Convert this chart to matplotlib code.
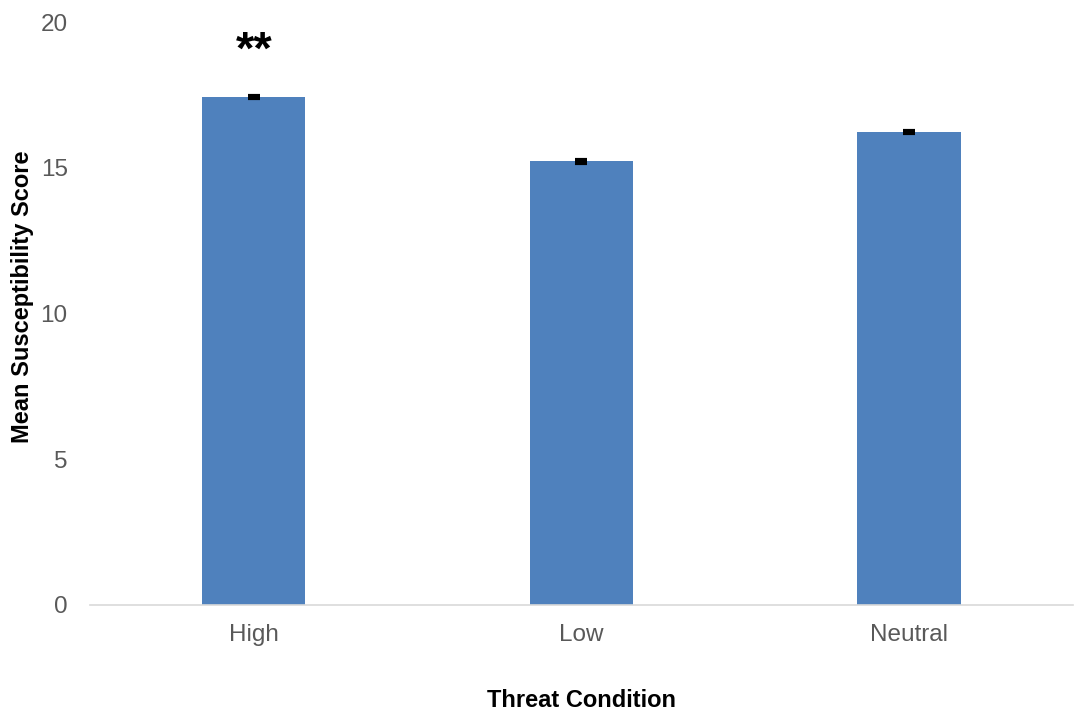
import matplotlib
matplotlib.use('Agg')
import matplotlib.pyplot as plt

# Data
conditions = ['High', 'Low', 'Neutral']
mean_scores = [17.43, 15.22, 16.22]
std_errors = [0.04, 0.04, 0.04]
significance = ['**', '', '']

plt.rcParams['font.family'] = ['Liberation Sans', 'DejaVu Sans']

fig = plt.figure(figsize=(10.76, 7.13), dpi=100)
ax = fig.add_axes([0.0836, 0.1515, 0.9134, 0.8175])

x = range(len(conditions))
ax.bar(x, mean_scores, width=0.315, color='#4F81BD', zorder=2)
ax.errorbar(x, mean_scores, yerr=std_errors, fmt='none', ecolor='black',
            elinewidth=2, capsize=4.5, capthick=3, zorder=3)

for i, s in enumerate(significance):
    if s:
        ax.text(i, mean_scores[i] + 1.55, s, ha='center', va='center',
                fontsize=34, fontweight='bold', color='black')

ax.set_xlim(-0.5, 2.5)
ax.set_ylim(0, 20)
ax.set_yticks([0, 5, 10, 15, 20])
ax.set_xticks(list(x))
ax.set_xticklabels(conditions)
ax.tick_params(axis='both', length=0, labelsize=17.5, labelcolor='#595959')
ax.tick_params(axis='y', pad=16)
ax.tick_params(axis='x', pad=14)

for side in ['top', 'right', 'left']:
    ax.spines[side].set_visible(False)
ax.spines['bottom'].set_color('#D9D9D9')
ax.spines['bottom'].set_linewidth(1.2)

ax.set_xlabel('Threat Condition', fontsize=17, fontweight='bold', labelpad=31)
ax.set_ylabel('Mean Susceptibility Score', fontsize=17, fontweight='bold',
              labelpad=5, y=0.528)

fig.savefig('out.png', dpi=100)
